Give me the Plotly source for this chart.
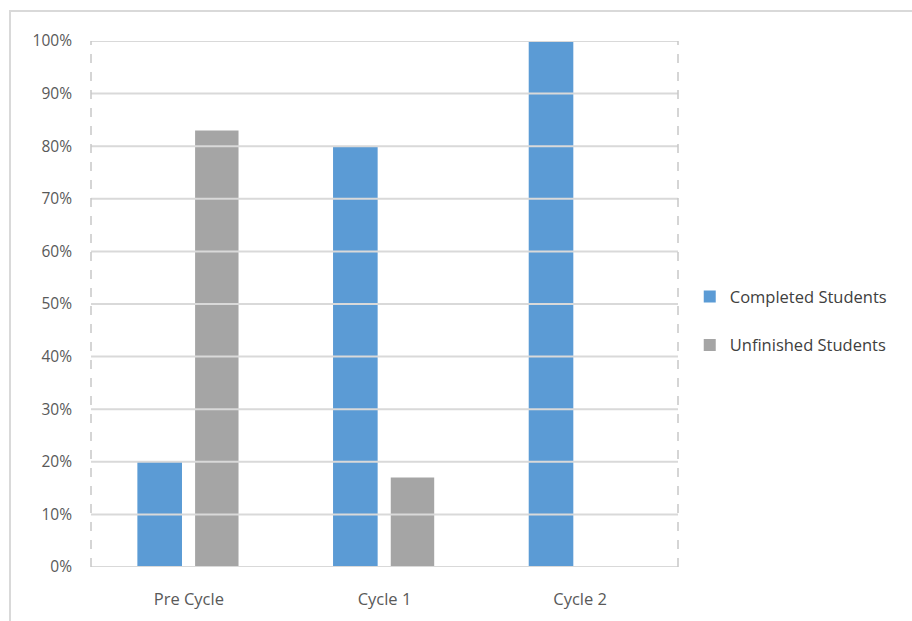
import plotly.graph_objects as go

categories = ["Pre Cycle", "Cycle 1", "Cycle 2"]
completed = [20, 80, 100]
unfinished = [83, 17, 0]
series_names = ["Completed Students", "Unfinished Students"]
tick_vals = [0, 10, 20, 30, 40, 50, 60, 70, 80, 90, 100]
tick_text = [f"{v}%" for v in tick_vals]

fig = go.Figure()
fig.add_trace(go.Bar(x=categories, y=completed, name=series_names[0],
                     marker=dict(color="#5b9bd5", line=dict(width=0)),
                     width=0.228, offset=-0.263, legendgroup="a"))
fig.add_trace(go.Bar(x=categories, y=unfinished, name=series_names[1],
                     marker=dict(color="#a5a5a5", line=dict(width=0)),
                     width=0.222, offset=0.032, legendgroup="b"))

shapes = []
for v in tick_vals:
    shapes.append(dict(type="line", xref="paper", yref="y", x0=0, x1=1, y0=v, y1=v,
                       line=dict(color="#d9d9d9", width=2), layer="above"))
for xv in [0, 1]:
    shapes.append(dict(type="line", xref="paper", yref="paper", x0=xv, x1=xv, y0=0, y1=1,
                       line=dict(color="#c8c8c8", width=1.5, dash="dash"), layer="above"))
# outer chart border
shapes.append(dict(type="rect", xref="paper", yref="paper", x0=-0.138, x1=1.6, y0=-0.3, y1=1.057,
                   line=dict(color="#d9d9d9", width=2), fillcolor="rgba(0,0,0,0)", layer="below"))

fig.update_layout(
    width=912, height=621,
    margin=dict(l=91, r=234, t=41, b=54),
    paper_bgcolor="white", plot_bgcolor="white",
    barmode="overlay",
    font=dict(family="Open Sans, Liberation Sans, sans-serif", size=15, color="#595959"),
    xaxis=dict(showgrid=False, showline=False, ticks="", ticklabelstandoff=20,
               tickfont=dict(size=16.5, color="#595959")),
    yaxis=dict(range=[0, 100], tickvals=tick_vals, ticktext=tick_text, showgrid=False,
               zeroline=False, showline=False, ticks="", ticklabelstandoff=18,
               tickfont=dict(size=15.5, color="#595959")),
    legend=dict(x=1.02, y=0.468, xanchor="left", yanchor="middle",
                traceorder="grouped", tracegroupgap=24,
                font=dict(size=16.5, color="#404040"), itemwidth=30),
    shapes=shapes,
)

fig.write_html("out.html")
